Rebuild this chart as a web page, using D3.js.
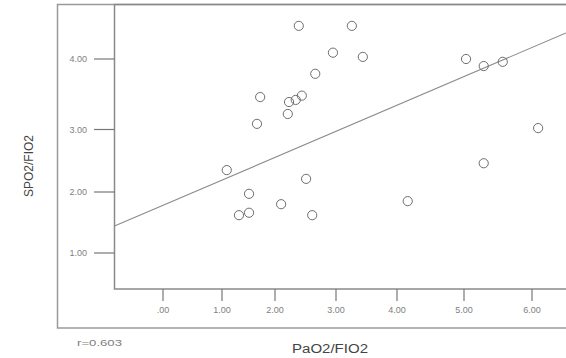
<!DOCTYPE html>
<html>
<head>
<meta charset="utf-8">
<script src="https://cdn.jsdelivr.net/npm/d3@7"></script>
<style>
    html, body { margin: 0; padding: 0; background: #fff; }
    svg { display: block; font-family: Arial, 'Liberation Sans', sans-serif; }
</style>
</head>
<body>
<svg id="chart" width="566" height="358"></svg>
<script>
// data (PaO2/FIO2 vs SPO2/FIO2)
const pao2 = [2.39, 3.26, 2.95, 3.44, 2.66, 1.72, 2.23, 2.34, 2.44, 2.21, 1.66, 5.03,
              5.29, 5.57, 6.09, 5.29, 1.09, 2.51, 1.51, 2.10, 1.32, 1.51, 2.61, 4.16];
const spo2 = [4.47, 4.47, 4.09, 4.03, 3.79, 3.46, 3.39, 3.42, 3.48, 3.22, 3.08, 4.00,
              3.90, 3.96, 3.02, 2.46, 2.35, 2.21, 1.97, 1.80, 1.62, 1.66, 1.62, 1.85];
const xTicks = [0, 1, 2, 3, 4, 5, 6];
const yTicks = [1, 2, 3, 4];
const fitIntercept = 1.77;
const fitSlope = 0.40;
const rLabel = 'r=0.603';
const xTitle = 'PaO2/FIO2';
const yTitle = 'SPO2/FIO2';

const points = pao2.map((d, i) => ({ x: d, y: spo2[i] }));

// SPSS-ish formatting: .00, 1.00 ...
const fmt = (d) => d === 0 ? '.00' : d.toFixed(2);

const svg = d3.select('#chart');

// the scanned plot is a bit uneven, so scale stops follow the tick marks
const x = d3.scaleLinear()
    .domain(xTicks)
    .range([163, 222, 275, 336, 397, 464, 532]);

const y = d3.scaleLinear()
    .domain(yTicks)
    .range([253, 192, 129.5, 59]);

const plot = { left: 114.5, top: 4.5, bottom: 289, right: 600 };
const outer = { left: 57.5, top: 4.5, bottom: 328, right: 600 };

// outer frame
svg.append('rect')
    .attr('x', outer.left)
    .attr('y', outer.top)
    .attr('width', outer.right - outer.left)
    .attr('height', outer.bottom - outer.top)
    .attr('fill', 'none')
    .attr('stroke', '#9a9a9a')
    .attr('stroke-width', 1.5);

// inner plot frame
svg.append('rect')
    .attr('x', plot.left)
    .attr('y', plot.top)
    .attr('width', plot.right - plot.left)
    .attr('height', plot.bottom - plot.top)
    .attr('fill', 'none')
    .attr('stroke', '#8a8a8a')
    .attr('stroke-width', 1.5);

// y ticks
const yAxis = svg.append('g')
    .attr('class', 'y-axis');

yAxis.selectAll('line')
    .data(yTicks)
    .enter()
    .append('line')
    .attr('x1', 94)
    .attr('x2', plot.left)
    .attr('y1', (d) => y(d))
    .attr('y2', (d) => y(d))
    .attr('stroke', '#777')
    .attr('stroke-width', 1.2);

yAxis.selectAll('text')
    .data(yTicks)
    .enter()
    .append('text')
    .attr('x', 87)
    .attr('y', (d) => y(d))
    .attr('text-anchor', 'end')
    .attr('dominant-baseline', 'central')
    .attr('font-size', 9)
    .attr('fill', '#808080')
    .text(fmt);

// x ticks
const xAxis = svg.append('g')
    .attr('class', 'x-axis');

xAxis.selectAll('line')
    .data(xTicks)
    .enter()
    .append('line')
    .attr('x1', (d) => x(d))
    .attr('x2', (d) => x(d))
    .attr('y1', plot.bottom)
    .attr('y2', 301)
    .attr('stroke', '#777')
    .attr('stroke-width', 1.2);

xAxis.selectAll('text')
    .data(xTicks)
    .enter()
    .append('text')
    .attr('x', (d) => x(d))
    .attr('y', 310)
    .attr('text-anchor', 'middle')
    .attr('dominant-baseline', 'central')
    .attr('font-size', 9)
    .attr('fill', '#808080')
    .text(fmt);

// fit line, clipped to the plot box
svg.append('clipPath')
    .attr('id', 'plot-clip')
    .append('rect')
    .attr('x', plot.left)
    .attr('y', plot.top)
    .attr('width', plot.right - plot.left)
    .attr('height', plot.bottom - plot.top);

const xMin = x.invert(plot.left);
const xMax = x.invert(566);

svg.append('path')
    .datum([xMin, xMax])
    .attr('clip-path', 'url(#plot-clip)')
    .attr('d', d3.line()
        .x((d) => x(d))
        .y((d) => y(fitIntercept + fitSlope * d)))
    .attr('fill', 'none')
    .attr('stroke', '#8c8c8c')
    .attr('stroke-width', 1.1);

// points
svg.append('g')
    .attr('class', 'points')
    .selectAll('circle')
    .data(points)
    .enter()
    .append('circle')
    .attr('cx', (d) => x(d.x))
    .attr('cy', (d) => y(d.y))
    .attr('r', 4.6)
    .attr('fill', 'none')
    .attr('stroke', '#6e6e6e')
    .attr('stroke-width', 1);

// labels
svg.append('text')
    .attr('transform', 'translate(29,166) rotate(-90)')
    .attr('text-anchor', 'middle')
    .attr('dominant-baseline', 'central')
    .attr('font-size', 12)
    .attr('fill', '#444')
    .text(yTitle);

svg.append('text')
    .attr('x', 292)
    .attr('y', 349)
    .attr('dominant-baseline', 'central')
    .attr('font-size', 12)
    .attr('textLength', 76)
    .attr('lengthAdjust', 'spacingAndGlyphs')
    .attr('fill', '#444')
    .text(xTitle);

svg.append('text')
    .attr('x', 77)
    .attr('y', 342)
    .attr('dominant-baseline', 'central')
    .attr('font-size', 9.5)
    .attr('textLength', 45)
    .attr('lengthAdjust', 'spacingAndGlyphs')
    .attr('fill', '#808080')
    .text(rLabel);
</script>
</body>
</html>
